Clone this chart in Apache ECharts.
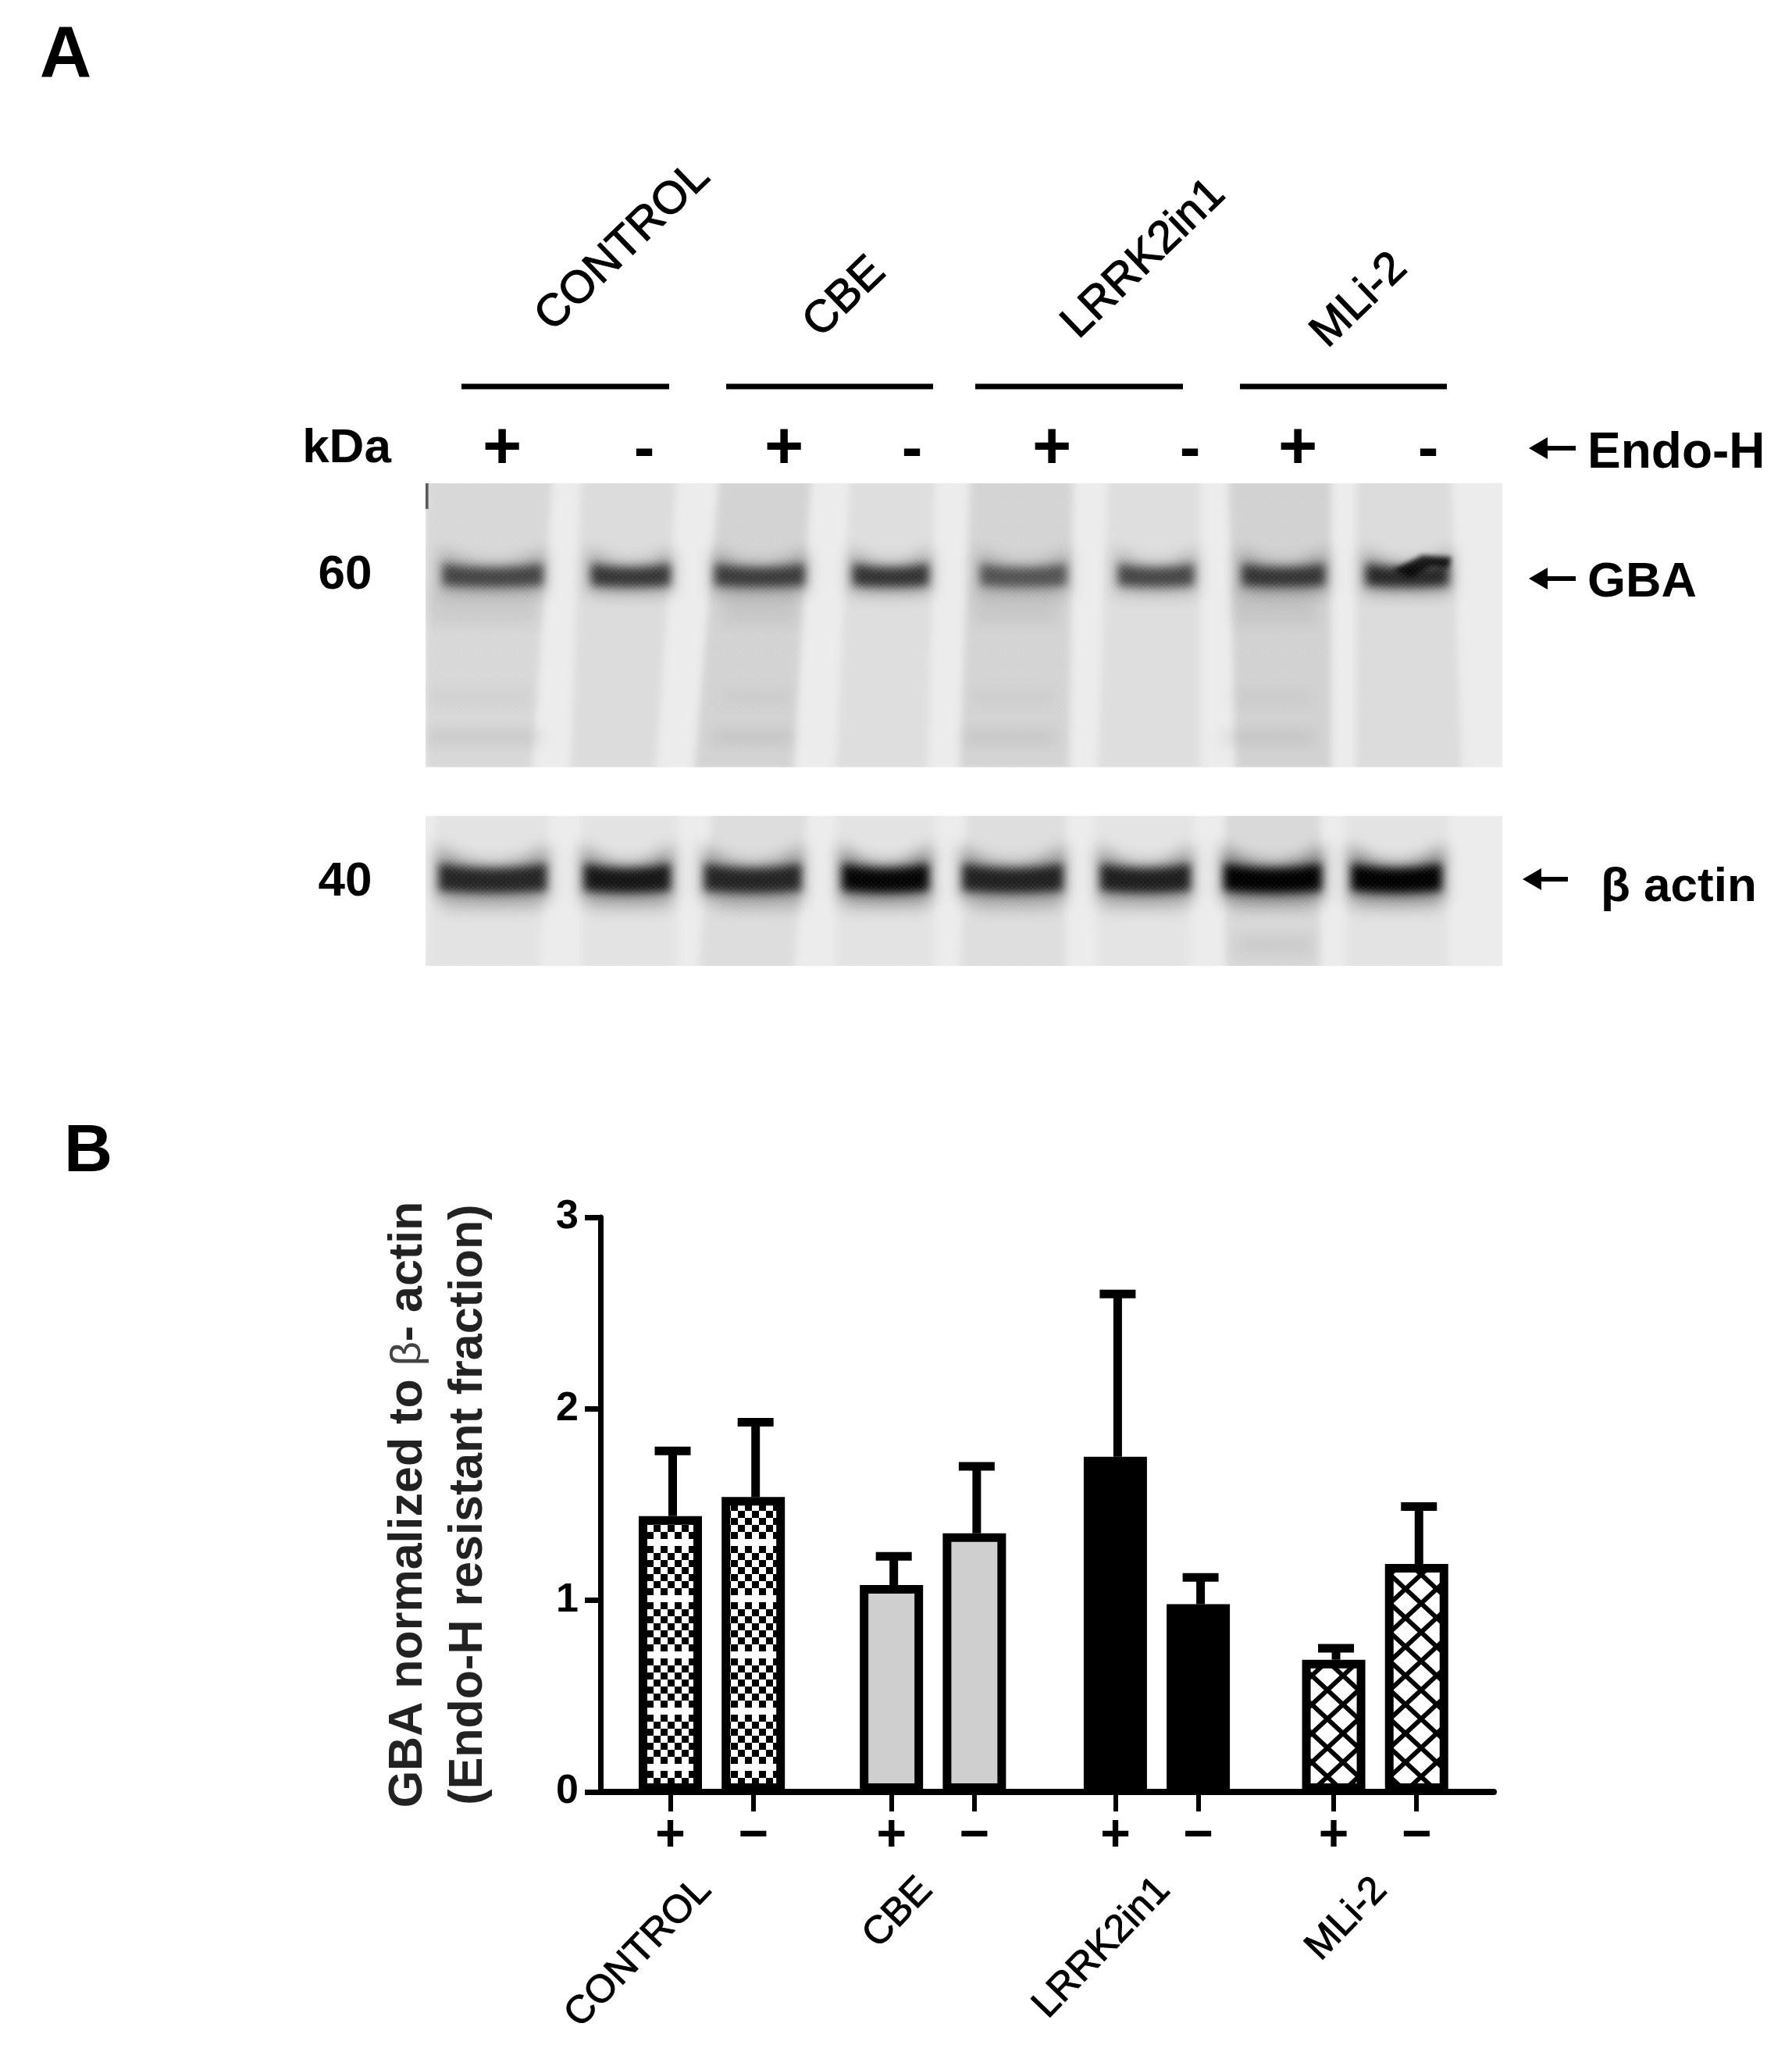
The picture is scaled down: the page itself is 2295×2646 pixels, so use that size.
<!DOCTYPE html>
<html>
<head>
<meta charset="utf-8">
<title>GBA Endo-H</title>
<style>
html, body { margin: 0; padding: 0; background: #fff; }
#main { width: 2295px; height: 2646px; }
</style>
<script src="https://cdn.jsdelivr.net/npm/echarts@6/dist/echarts.min.js"></script>
</head>
<body>
<div id="main"></div>
<script>
// chart data, panel B
var groups = ['CONTROL', 'CBE', 'LRRK2in1', 'MLi-2'];
var signs = ['+', '\u2212'];
var meanValues = [1.44, 1.54, 1.08, 1.35, 1.75, 0.98, 0.69, 1.19];
var upperValues = [1.78, 1.93, 1.23, 1.70, 2.60, 1.12, 0.75, 1.49];
var yTicks = [0, 1, 2, 3];

// blot data, panel A (band darkness per lane, 0 to 1)
var gbaBand = [0.58, 0.66, 0.62, 0.68, 0.50, 0.58, 0.66, 0.74];
var actinBand = [0.76, 0.85, 0.76, 0.97, 0.78, 0.80, 1, 1];
var blotSigns = ['+', '-', '+', '-', '+', '-', '+', '-'];
var markers = ['60', '40'];

var FONT = '"Liberation Sans", Arial, sans-serif';

// layout of the bars: units along the x axis
var groupStart = [0, 8, 16.1, 24];
var signStep = 3;
var labelShift = [-0.25, -0.25, 0.25, 0.2];

/**
 * @desc checker fill of the CONTROL bars
 */
function makeCheckerFill() {
    var c = document.createElement('canvas');
    c.width = 18;
    c.height = 72;
    var ctx = c.getContext('2d');
    ctx.fillStyle = '#fff';
    ctx.fillRect(0, 0, 18, 72);
    ctx.fillStyle = '#000';
    for (var r = 0; r < 8; r++) {
        if (r === 3) {
            continue;
        }
        var off = r % 2 === 0 ? 0 : 9;
        ctx.fillRect(off, r * 9, 9, 9);
    }
    return { image: c, repeat: 'repeat' };
}

/**
 * @desc cross hatch fill of the MLi-2 bars
 */
function makeHatchFill() {
    var c = document.createElement('canvas');
    c.width = 40;
    c.height = 37;
    var ctx = c.getContext('2d');
    ctx.fillStyle = '#fff';
    ctx.fillRect(0, 0, 40, 37);
    ctx.strokeStyle = '#000';
    ctx.lineWidth = 6;
    ctx.beginPath();
    for (var i = -1; i <= 1; i++) {
        ctx.moveTo(-40 + i * 40, -37);
        ctx.lineTo(80 + i * 40, 74);
        ctx.moveTo(80 + i * 40, -37);
        ctx.lineTo(-40 + i * 40, 74);
    }
    ctx.stroke();
    return { image: c, repeat: 'repeat' };
}

/**
 * @desc western blot picture of panel A, drawn in the units of one full blot crop
 */
function makeBlot() {
    var c = document.createElement('canvas');
    c.width = 1379;
    c.height = 618;
    var ctx = c.getContext('2d');
    var sx = 1379 / 1522, sy = 618 / 1506;
    ctx.fillStyle = '#ececec';
    ctx.fillRect(0, 0, 1379, 618);
    ctx.setTransform(sx, 0, 0, sy, -30 * sx, -22 * sy);

    var topLanes = [[30, 210, 30, 180], [250, 385, 235, 355], [445, 575, 410, 550], [630, 750, 610, 740],
        [800, 945, 785, 940], [995, 1125, 980, 1125], [1165, 1310, 1175, 1310], [1345, 1480, 1345, 1495]];
    var lowLanes = [[45, 205, 30, 190], [250, 385, 250, 385], [435, 570, 415, 550], [610, 750, 610, 750],
        [795, 935, 785, 935], [975, 1115, 980, 1110], [1160, 1295, 1160, 1295], [1330, 1475, 1330, 1475]];
    var topShade = ['#d8d8d8', '#dcdcdc', '#d3d3d3', '#dedede', '#d4d4d4', '#dedede', '#d2d2d2', '#dcdcdc'];
    var lowShade = ['#e3e3e3', '#e3e3e3', '#dddddd', '#e3e3e3', '#dedede', '#e4e4e4', '#d9d9d9', '#e3e3e3'];

    var i, l;
    ctx.filter = 'blur(5px)';
    for (i = 0; i < 8; i++) {
        l = topLanes[i];
        ctx.fillStyle = topShade[i];
        ctx.beginPath();
        ctx.moveTo(l[0], 0);
        ctx.lineTo(l[1], 0);
        ctx.lineTo(l[3], 920);
        ctx.lineTo(l[2], 920);
        ctx.closePath();
        ctx.fill();
        l = lowLanes[i];
        ctx.fillStyle = lowShade[i];
        ctx.beginPath();
        ctx.moveTo(l[0], 1040);
        ctx.lineTo(l[1], 1040);
        ctx.lineTo(l[3], 1560);
        ctx.lineTo(l[2], 1560);
        ctx.closePath();
        ctx.fill();
    }

    // smear under the bands and the faint low bands of the + lanes
    ctx.filter = 'blur(9px)';
    for (i = 0; i < 8; i += 2) {
        l = topLanes[i];
        ctx.fillStyle = 'rgba(0,0,0,0.06)';
        ctx.fillRect(l[0] + 5, 350, l[1] - l[0] - 25, 110);
        ctx.fillStyle = 'rgba(0,0,0,0.025)';
        ctx.fillRect(l[0], 660, l[1] - l[0] - 25, 60);
        ctx.fillStyle = 'rgba(0,0,0,0.07)';
        ctx.fillRect(l[0] + (i === 0 ? 0 : -10), 795, l[1] - l[0] - 15, 40);
    }
    for (i = 0; i < 8; i++) {
        l = lowLanes[i];
        ctx.fillStyle = 'rgba(0,0,0,0.09)';
        ctx.fillRect(l[0] + 10, 1310, l[1] - l[0] - 20, 50);
    }
    ctx.fillStyle = 'rgba(0,0,0,0.06)';
    ctx.fillRect(1175, 1430, 110, 70);

    var gbaX = [[50, 200], [260, 380], [435, 570], [630, 745], [810, 940], [1005, 1120], [1180, 1305], [1355, 1480]];
    var actinX = [[45, 205], [250, 380], [420, 565], [615, 745], [785, 935], [980, 1115], [1155, 1300], [1335, 1470]];
    drawBands(ctx, gbaX, gbaBand, 312, 56, 70);
    drawBands(ctx, actinX, actinBand, 1258, 70, 90);

    // the kinked band of the last lane
    ctx.filter = 'blur(3px)';
    ctx.strokeStyle = 'rgba(0,0,0,0.85)';
    ctx.lineWidth = 34;
    ctx.beginPath();
    ctx.moveTo(1410, 305);
    ctx.lineTo(1445, 265);
    ctx.lineTo(1478, 270);
    ctx.stroke();

    // fine grain of the scan
    ctx.filter = 'none';
    ctx.setTransform(1, 0, 0, 1, 0, 0);
    var tile = document.createElement('canvas');
    tile.width = 6;
    tile.height = 6;
    var tc = tile.getContext('2d');
    tc.fillStyle = 'rgba(255,255,255,0.05)';
    tc.fillRect(0, 0, 2, 2);
    tc.fillRect(3, 3, 2, 2);
    ctx.fillStyle = ctx.createPattern(tile, 'repeat');
    ctx.fillRect(0, 0, 1379, 618);
    ctx.setTransform(sx, 0, 0, sy, -30 * sx, -22 * sy);

    // cut the two membranes apart, the edges stay sharp
    ctx.fillStyle = '#fff';
    ctx.fillRect(0, 908, 1700, 152);
    ctx.fillStyle = 'rgba(0,0,0,0.6)';
    ctx.fillRect(30, 22, 4, 80);
    return c;
}

/**
 * @desc draw one row of bands, each sags in the middle and curls up at its ends
 */
function drawBands(ctx, xs, dark, yc, core, curl) {
    for (var i = 0; i < xs.length; i++) {
        var x0 = xs[i][0], x1 = xs[i][1], mid = (x0 + x1) / 2;
        // soft halo, rises at both ends of the band
        ctx.filter = 'blur(10px)';
        ctx.fillStyle = 'rgba(0,0,0,' + dark[i] * 0.42 + ')';
        ctx.beginPath();
        ctx.moveTo(x0, yc - curl * 1.2);
        ctx.quadraticCurveTo(mid, yc + curl * 0.1, x1, yc - curl * 1.2);
        ctx.lineTo(x1, yc + core * 0.9);
        ctx.quadraticCurveTo(mid, yc + core * 1.1, x0, yc + core * 0.9);
        ctx.closePath();
        ctx.fill();
        // dark core
        ctx.filter = 'blur(6px)';
        ctx.fillStyle = 'rgba(0,0,0,' + dark[i] + ')';
        ctx.beginPath();
        ctx.moveTo(x0 + 4, yc - core * 0.7);
        ctx.quadraticCurveTo(mid, yc - core * 0.25, x1 - 4, yc - core * 0.7);
        ctx.lineTo(x1 - 4, yc + core * 0.5);
        ctx.quadraticCurveTo(mid, yc + core * 0.7, x0 + 4, yc + core * 0.5);
        ctx.closePath();
        ctx.fill();
    }
}

function textItem(str, x, y, size, weight, rot, align, thick) {
    return {
        type: 'text',
        x: x,
        y: y,
        rotation: rot ? rot * Math.PI / 180 : 0,
        z: 10,
        style: {
            text: str,
            fontFamily: FONT,
            fontSize: size,
            fontWeight: weight,
            fill: '#000',
            stroke: thick ? '#000' : null,
            lineWidth: thick || 0,
            align: align || 'center',
            verticalAlign: 'middle'
        }
    };
}

function lineItem(x1, x2, y, w) {
    return {
        type: 'line',
        z: 10,
        shape: { x1: x1, y1: y, x2: x2, y2: y },
        style: { stroke: '#000', lineWidth: w }
    };
}

// arrows pointing to the left
function arrowItem(x1, x2, y) {
    return {
        type: 'group',
        z: 10,
        children: [
            lineItem(x1 + 14, x2, y, 6),
            {
                type: 'polygon',
                shape: { points: [[x1, y], [x1 + 24, y - 14], [x1 + 24, y + 14]] },
                style: { fill: '#000' }
            }
        ]
    };
}

/**
 * @desc everything of panel A, plus the panel letters
 */
function buildGraphic() {
    var items = [];
    items.push({ type: 'image', x: 545, y: 619, z: 1, style: { image: makeBlot(), x: 0, y: 0, width: 1379, height: 618 } });

    items.push(textItem('A', 84, 73, 92, 'bold'));
    items.push(textItem('B', 113, 1476, 86, 'bold'));

    // rotated group names over the blot
    var nameX = [798, 1082, 1465, 1741], nameY = [316, 381, 332, 385];
    var barX = [[591, 857], [930, 1195], [1249, 1515], [1588, 1853]];
    for (var i = 0; i < groups.length; i++) {
        items.push(textItem(groups[i], nameX[i], nameY[i], 58, 'normal', 44, 'center', 1.2));
        items.push(lineItem(barX[i][0], barX[i][1], 495, 7));
    }

    // Endo-H row
    var signX = [643, 825, 1004, 1168, 1347, 1524, 1662, 1829];
    for (var k = 0; k < blotSigns.length; k++) {
        items.push(blotSigns[k] === '+'
            ? textItem('+', signX[k], 576, 86, 'bold')
            : textItem('-', signX[k], 578, 80, 'bold'));
    }
    items.push(textItem('kDa', 444, 575, 62, 'bold'));
    items.push(textItem('Endo-H', 2033, 581, 64, 'bold', 0, 'left'));
    items.push(textItem('GBA', 2033, 747, 63, 'bold', 0, 'left'));
    items.push(textItem('\u03b2 actin', 2050, 1137, 62, 'bold', 0, 'left'));
    items.push(textItem(markers[0], 442, 737, 62, 'bold'));
    items.push(textItem(markers[1], 442, 1130, 62, 'bold'));
    items.push(arrowItem(1958, 2018, 574));
    items.push(arrowItem(1958, 2018, 741));
    items.push(arrowItem(1950, 2008, 1126));
    return items;
}

initChart();

function initChart() {
    var fills = [makeCheckerFill(), '#cfcfcf', '#000', makeHatchFill()];

    var barData = [], errData = [], tickPos = [], signOf = {}, groupPos = [], groupOf = {};
    for (var g = 0; g < groups.length; g++) {
        for (var s = 0; s < signs.length; s++) {
            var n = g * signs.length + s;
            var pos = groupStart[g] + s * signStep;
            barData.push({ value: [pos, meanValues[n]], itemStyle: { color: fills[g] } });
            errData.push([pos, meanValues[n], upperValues[n]]);
            tickPos.push(pos);
            signOf[pos] = signs[s];
        }
        var mid = groupStart[g] + signStep / 2 + labelShift[g];
        groupPos.push(mid);
        groupOf[mid] = groups[g];
    }

    var myChart = echarts.init(document.getElementById('main'), null, { renderer: 'canvas' });
    var option = {
        backgroundColor: '#fff',
        animation: false,
        textStyle: { fontFamily: FONT },
        graphic: { elements: buildGraphic() },
        grid: { left: 769, right: 382, top: 1559, bottom: 351, containLabel: false },
        xAxis: [{
            type: 'value',
            min: -2.528,
            max: 29.79,
            splitLine: { show: false },
            axisLine: { lineStyle: { color: '#000', width: 8 } },
            axisTick: { show: true, length: 25, customValues: tickPos, lineStyle: { color: '#000', width: 6 } },
            axisLabel: {
                customValues: tickPos,
                margin: 24,
                color: '#000',
                fontFamily: FONT,
                fontWeight: 'bold',
                fontSize: 66,
                formatter: function (v) { return signOf[v] || ''; }
            }
        }, {
            type: 'value',
            position: 'bottom',
            min: -2.528,
            max: 29.79,
            splitLine: { show: false },
            axisLine: { show: false },
            axisTick: { show: false },
            axisLabel: {
                customValues: groupPos,
                rotate: 46,
                margin: 118,
                color: '#000',
                fontFamily: FONT,
                fontSize: 50,
                textBorderColor: '#000',
                textBorderWidth: 1,
                formatter: function (v) { return groupOf[v] || ''; }
            }
        }],
        yAxis: [{
            type: 'value',
            min: yTicks[0],
            max: yTicks[yTicks.length - 1],
            interval: 1,
            name: '{t|GBA normalized to }{g|\u03b2}{t|- actin}\n{t|(Endo-H resistant fraction)}',
            nameLocation: 'middle',
            nameGap: 130,
            nameRotate: 90,
            nameTextStyle: {
                align: 'center',
                rich: {
                    t: { fontFamily: FONT, fontWeight: 'bold', fontSize: 61, color: '#222', lineHeight: 77 },
                    g: { fontFamily: FONT, fontWeight: 'normal', fontSize: 54, color: '#444', lineHeight: 77 }
                }
            },
            splitLine: { show: false },
            axisLine: { show: true, onZero: false, lineStyle: { color: '#000', width: 7 } },
            axisTick: { show: true, length: 20, lineStyle: { color: '#000', width: 7 } },
            axisLabel: { margin: 28, color: '#000', fontFamily: FONT, fontWeight: 'bold', fontSize: 52 }
        }],
        series: [{
            type: 'bar',
            name: 'mean',
            barWidth: 81,
            itemStyle: { borderColor: '#000', borderWidth: 11 },
            data: barData,
            z: 2
        }, {
            type: 'custom',
            name: 'error',
            clip: false,
            z: 1,
            data: errData,
            encode: { x: 0, y: 2 },
            renderItem: function (params, api) {
                var x = api.value(0);
                var base = api.coord([x, api.value(1)]);
                var top = api.coord([x, api.value(2)]);
                var stroke = { stroke: '#000', lineWidth: 11 };
                return {
                    type: 'group',
                    children: [
                        { type: 'line', shape: { x1: base[0] + 3, y1: base[1], x2: base[0] + 3, y2: top[1] }, style: stroke },
                        { type: 'line', shape: { x1: base[0] - 20, y1: top[1], x2: base[0] + 26, y2: top[1] }, style: stroke }
                    ]
                };
            }
        }]
    };
    myChart.setOption(option);
}
</script>
</body>
</html>
